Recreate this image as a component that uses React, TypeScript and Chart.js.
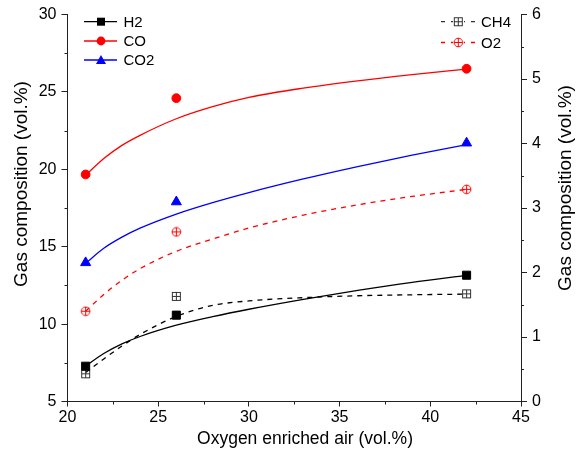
import React, { useEffect, useRef } from 'react';
import { Chart, registerables } from 'chart.js';

Chart.register(...registerables);

// Measured points
const xMeasured = [21, 26, 42];
const h2 = [7.28, 10.58, 13.16];
const co = [19.67, 24.6, 26.5];
const co2 = [13.97, 17.9, 21.7];
const ch4 = [0.43, 1.63, 1.67];
const o2 = [1.4, 2.63, 3.29];

// Fitted curves
const xFit = [21, 22, 23, 24, 26, 28, 30, 33, 36, 39, 42];
const h2Fit = [7.29, 8.1, 8.72, 9.2, 9.93, 10.48, 10.96, 11.6, 12.18, 12.7, 13.15];
const coFit = [19.63, 20.7, 21.55, 22.2, 23.27, 24.05, 24.65, 25.25, 25.72, 26.12, 26.48];
const co2Fit = [13.93, 14.9, 15.62, 16.2, 17.11, 17.85, 18.5, 19.38, 20.18, 20.92, 21.6];
const ch4Fit = [0.45, 0.66, 0.86, 1.04, 1.32, 1.49, 1.56, 1.61, 1.64, 1.655, 1.665];
const o2Fit = [1.4, 1.66, 1.88, 2.06, 2.33, 2.52, 2.69, 2.89, 3.05, 3.18, 3.29];

const xMinorTicks = [22.5, 27.5, 32.5, 37.5, 42.5];
const leftMinorTicks = [7.5, 12.5, 17.5, 22.5, 27.5];
const rightMinorTicks = [0.5, 1.5, 2.5, 3.5, 4.5, 5.5];

const xTitle = 'Oxygen enriched air (vol.%)';
const yTitle = 'Gas composition (vol.%)';
const y1Title = 'Gas composition (vol.%)';

const FONT = "'Liberation Sans', Arial, sans-serif";
const AXIS = '#222';

function pts(xs: number[], ys: number[]) {
  return xs.map((x, i) => ({ x, y: ys[i] }));
}

function makeBoxPlus(color: string) {
  const c = document.createElement('canvas');
  c.width = 11;
  c.height = 11;
  const g = c.getContext('2d')!;
  g.strokeStyle = color;
  g.lineWidth = 1;
  g.strokeRect(1.5, 1.5, 8, 8);
  g.beginPath();
  g.moveTo(5.5, 1.5);
  g.lineTo(5.5, 9.5);
  g.moveTo(1.5, 5.5);
  g.lineTo(9.5, 5.5);
  g.stroke();
  return c;
}

function makeCirclePlus(color: string) {
  const c = document.createElement('canvas');
  c.width = 11;
  c.height = 11;
  const g = c.getContext('2d')!;
  g.strokeStyle = color;
  g.lineWidth = 1;
  g.beginPath();
  g.arc(5.5, 5.5, 4.3, 0, Math.PI * 2);
  g.moveTo(5.5, 1.2);
  g.lineTo(5.5, 9.8);
  g.moveTo(1.2, 5.5);
  g.lineTo(9.8, 5.5);
  g.stroke();
  return c;
}

export default function App() {
  const ref = useRef<HTMLCanvasElement>(null);

  useEffect(() => {
    if (!ref.current) return;
    const boxPlus = makeBoxPlus('#333');
    const circPlus = makeCirclePlus('#ff0000');

    const minorTicks = {
      id: 'minorTicks',
      afterDraw(chart: any) {
        const ctx = chart.ctx;
        const { x, y, y1 } = chart.scales;
        const a = chart.chartArea;
        ctx.save();
        ctx.strokeStyle = AXIS;
        ctx.lineWidth = 1;
        ctx.beginPath();
        xMinorTicks.forEach((v) => {
          const px = Math.round(x.getPixelForValue(v)) + 0.5;
          ctx.moveTo(px, a.bottom);
          ctx.lineTo(px, a.bottom + 3);
        });
        leftMinorTicks.forEach((v) => {
          const py = Math.round(y.getPixelForValue(v)) + 0.5;
          ctx.moveTo(a.left, py);
          ctx.lineTo(a.left - 3, py);
        });
        rightMinorTicks.forEach((v) => {
          const py = Math.round(y1.getPixelForValue(v)) + 0.5;
          ctx.moveTo(a.right, py);
          ctx.lineTo(a.right + 3, py);
        });
        ctx.stroke();

        // Axis titles
        ctx.fillStyle = '#000';
        ctx.textAlign = 'center';
        ctx.textBaseline = 'middle';
        ctx.font = `17.5px ${FONT}`;
        ctx.fillText(xTitle, 305, 439);
        ctx.font = `19px ${FONT}`;
        ctx.save();
        ctx.translate(22, 184);
        ctx.rotate(-Math.PI / 2);
        ctx.fillText(yTitle, 0, 0);
        ctx.restore();
        ctx.save();
        ctx.translate(566, 188);
        ctx.rotate(-Math.PI / 2);
        ctx.fillText(y1Title, 0, 0);
        ctx.restore();

        // Legends
        ctx.font = `15px ${FONT}`;
        ctx.textAlign = 'left';
        const leftRows = [
          { label: 'H2', color: '#000', style: 'rect', y: 21.7 },
          { label: 'CO', color: '#ff0000', style: 'circle', y: 41 },
          { label: 'CO2', color: '#0000ff', style: 'triangle', y: 60 },
        ];
        leftRows.forEach((r) => {
          ctx.strokeStyle = r.color;
          ctx.lineWidth = 1.3;
          ctx.setLineDash([]);
          ctx.beginPath();
          ctx.moveTo(84, r.y);
          ctx.lineTo(117, r.y);
          ctx.stroke();
          ctx.fillStyle = r.color;
          ctx.beginPath();
          if (r.style === 'rect') {
            ctx.rect(97, r.y - 4, 8, 8);
          } else if (r.style === 'circle') {
            ctx.arc(101, r.y, 4.4, 0, Math.PI * 2);
          } else {
            ctx.moveTo(101, r.y - 5);
            ctx.lineTo(106, r.y + 4);
            ctx.lineTo(96, r.y + 4);
            ctx.closePath();
          }
          ctx.fill();
          ctx.fillStyle = '#000';
          ctx.fillText(r.label, 123.5, r.y + 1);
        });
        const rightRows = [
          { label: 'CH4', color: '#333', img: boxPlus, y: 21.7 },
          { label: 'O2', color: '#ff0000', img: circPlus, y: 42.5 },
        ];
        rightRows.forEach((r) => {
          ctx.strokeStyle = r.color;
          ctx.lineWidth = 1.3;
          ctx.setLineDash([4, 6]);
          ctx.beginPath();
          ctx.moveTo(441, r.y);
          ctx.lineTo(477, r.y);
          ctx.stroke();
          ctx.setLineDash([]);
          ctx.fillStyle = '#fff';
          ctx.fillRect(453, r.y - 5.5, 11, 11);
          ctx.drawImage(r.img, 458.3 - 5.5, r.y - 5.5);
          ctx.fillStyle = '#000';
          ctx.fillText(r.label, 481, r.y + 1);
        });
        ctx.restore();
      },
    };

    const tickFont = { family: FONT, size: 16 };
    const fitBase = {
      type: 'line' as const,
      pointRadius: 0,
      borderWidth: 1.3,
      cubicInterpolationMode: 'monotone' as const,
      fill: false,
    };
    const ptBase = {
      type: 'scatter' as const,
      showLine: false,
      borderWidth: 1,
    };

    const chart = new Chart(ref.current, {
      type: 'line',
      data: {
        datasets: [
          { ...ptBase, label: 'H2', data: pts(xMeasured, h2), yAxisID: 'y', pointStyle: 'rect', pointRadius: 5.7, backgroundColor: '#000', borderColor: '#000' },
          { ...ptBase, label: 'CO', data: pts(xMeasured, co), yAxisID: 'y', pointStyle: 'circle', pointRadius: 4.4, backgroundColor: '#ff0000', borderColor: '#ff0000' },
          { ...ptBase, label: 'CO2', data: pts(xMeasured, co2), yAxisID: 'y', pointStyle: 'triangle', pointRadius: 5.8, backgroundColor: '#0000ff', borderColor: '#0000ff' },
          { ...ptBase, label: 'CH4', data: pts(xMeasured, ch4), yAxisID: 'y1', pointStyle: boxPlus as any, pointRadius: 5, backgroundColor: 'rgba(0,0,0,0)', borderColor: '#333' },
          { ...ptBase, label: 'O2', data: pts(xMeasured, o2), yAxisID: 'y1', pointStyle: circPlus as any, pointRadius: 5, backgroundColor: 'rgba(0,0,0,0)', borderColor: '#ff0000' },
          { ...fitBase, label: 'H2 fit', data: pts(xFit, h2Fit), yAxisID: 'y', borderColor: '#000' },
          { ...fitBase, label: 'CO fit', data: pts(xFit, coFit), yAxisID: 'y', borderColor: '#ff0000' },
          { ...fitBase, label: 'CO2 fit', data: pts(xFit, co2Fit), yAxisID: 'y', borderColor: '#0000ff' },
          { ...fitBase, label: 'CH4 fit', data: pts(xFit, ch4Fit), yAxisID: 'y1', borderColor: '#000', borderDash: [5, 5] },
          { ...fitBase, label: 'O2 fit', data: pts(xFit, o2Fit), yAxisID: 'y1', borderColor: '#ff0000', borderDash: [5, 5] },
        ] as any,
      },
      options: {
        responsive: false,
        animation: false,
        layout: { padding: { top: 14.5, left: 0, right: 0, bottom: 0 } },
        plugins: { legend: { display: false }, tooltip: { enabled: false } },
        scales: {
          x: {
            type: 'linear',
            min: 20,
            max: 45,
            position: 'bottom',
            ticks: { stepSize: 5, font: tickFont, color: '#000', padding: 1, maxRotation: 0 },
            grid: { drawOnChartArea: false, tickLength: 5, tickColor: AXIS },
            border: { display: true, color: AXIS, width: 1 },
            afterFit: (s: any) => { s.height = 48.5; },
          },
          y: {
            type: 'linear',
            min: 5,
            max: 30,
            position: 'left',
            ticks: { stepSize: 5, font: tickFont, color: '#000', padding: 5 },
            grid: { drawOnChartArea: false, tickLength: 6, tickColor: AXIS },
            border: { display: true, color: AXIS, width: 1 },
            afterFit: (s: any) => { s.width = 67.5; },
          },
          y1: {
            type: 'linear',
            min: 0,
            max: 6,
            position: 'right',
            ticks: { stepSize: 1, font: tickFont, color: '#000', padding: 5 },
            grid: { drawOnChartArea: false, tickLength: 6, tickColor: AXIS },
            border: { display: true, color: AXIS, width: 1 },
            afterFit: (s: any) => { s.width = 58; },
          },
        },
      } as any,
      plugins: [minorTicks],
    });
    return () => chart.destroy();
  }, []);

  return (
    <div style={{ position: 'absolute', left: 0, top: 0, width: 579, height: 450, background: '#fff' }}>
      <canvas ref={ref} width={579} height={450} style={{ display: 'block' }} />
    </div>
  );
}
